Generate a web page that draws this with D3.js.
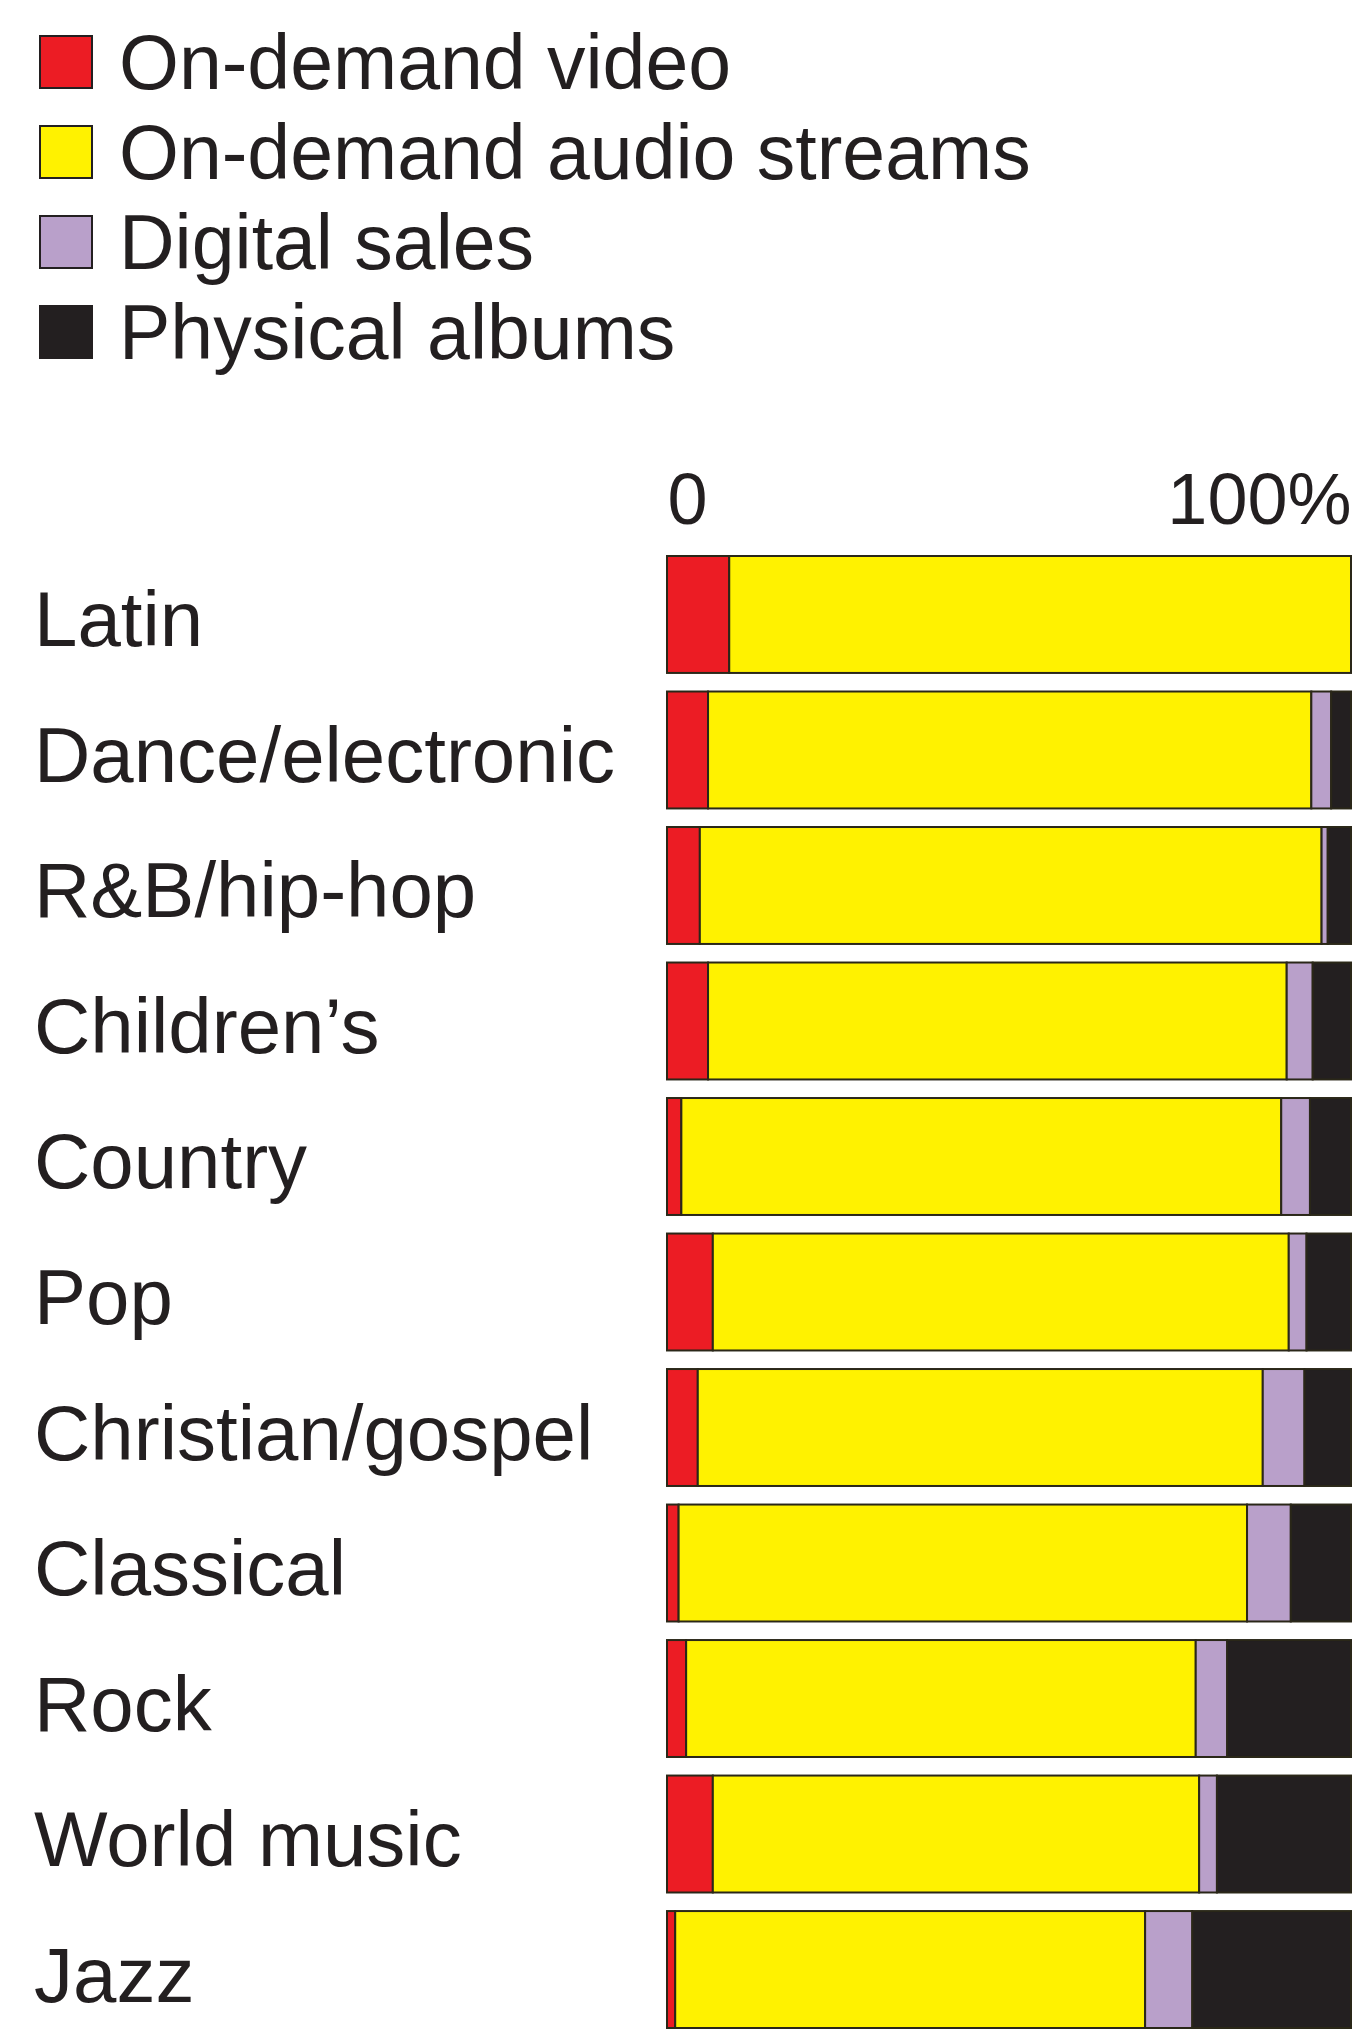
<!DOCTYPE html>
<html>
<head>
<meta charset="utf-8">
<title>Music consumption by genre</title>
<script src="https://cdn.jsdelivr.net/npm/d3@7"></script>
<style>
  body { margin: 0; background: #fff; }
  text { font-family: "Liberation Sans", Arial, Helvetica, sans-serif; fill: #231f20; }
</style>
</head>
<body>
<script>
// genres, top to bottom
var genres = ["Latin", "Dance/electronic", "R&B/hip-hop", "Children\u2019s", "Country", "Pop",
  "Christian/gospel", "Classical", "Rock", "World music", "Jazz"];

// share of consumption, percent
var video    = [9.1, 6.0, 4.8, 6.0, 2.1, 6.7, 4.5, 1.7, 2.8, 6.7, 1.2];
var audio    = [90.9, 88.2, 90.9, 84.6, 87.7, 84.2, 82.6, 83.1, 74.5, 71.1, 68.7];
var digital  = [0, 2.9, 0.9, 3.8, 4.2, 2.6, 6.1, 6.4, 4.6, 2.6, 6.9];
var physical = [0, 2.9, 3.4, 5.6, 6.0, 6.5, 6.8, 8.8, 18.1, 19.6, 23.2];

var seriesNames = ["On-demand video", "On-demand audio streams", "Digital sales", "Physical albums"];
var seriesColors = ["#ec1c24", "#fff200", "#b9a0ca", "#231f20"];
var tickLabels = ["0", "100%"];

var totalWidth = 1352;
var totalHeight = 2031;

var svg = d3.select("body").append("svg")
    .attr("width", totalWidth)
    .attr("height", totalHeight);

// build rows for the stack
var keys = ["video", "audio", "digital", "physical"];
var rows = genres.map(function(g, i) {
  return {genre: g, video: video[i], audio: audio[i], digital: digital[i], physical: physical[i]};
});
var stacked = d3.stack().keys(keys)(rows);

// scales
var x = d3.scaleLinear().domain([0, 100]).range([667, 1351]);
var y = d3.scaleBand().domain(genres).range([556, 2028]).paddingInner(0.137).paddingOuter(0);
var color = d3.scaleOrdinal().domain(keys).range(seriesColors);

// legend
var legend = svg.append("g").attr("class", "legend");
var item = legend.selectAll("g")
    .data(seriesNames)
    .enter()
    .append("g")
    .attr("transform", function(d, i) { return "translate(0," + (62 + i * 90) + ")"; });

item.append("rect")
    .attr("x", 40)
    .attr("y", -26)
    .attr("width", 52)
    .attr("height", 52)
    .attr("fill", function(d, i) { return seriesColors[i]; })
    .attr("stroke", "#231f20")
    .attr("stroke-width", 2);

item.append("text")
    .attr("x", 119)
    .attr("y", 27)
    .style("font-size", "77px")
    .text(function(d) { return d; });

// top axis with 0 and 100%
var axis = d3.axisTop(x)
    .tickValues([0, 100])
    .tickSize(0)
    .tickFormat(function(d, i) { return tickLabels[i]; });

var axisG = svg.append("g")
    .attr("transform", "translate(0,524)")
    .call(axis);
axisG.select(".domain").remove();
axisG.selectAll("text")
    .attr("y", 0)
    .attr("dy", 0)
    .style("font-size", "72px")
    .style("font-family", "Liberation Sans, Arial, sans-serif")
    .attr("fill", "#231f20")
    .attr("text-anchor", function(d) { return d === 0 ? "start" : "end"; });

// category labels
svg.append("g").selectAll("text")
    .data(genres)
    .enter()
    .append("text")
    .attr("x", 34)
    .attr("y", function(d) { return y(d) + y.bandwidth() / 2 + 32; })
    .style("font-size", "78px")
    .text(function(d) { return d; });

// stacked bars
svg.append("g").selectAll("g")
    .data(stacked)
    .enter()
    .append("g")
    .attr("fill", function(d) { return color(d.key); })
    .selectAll("rect")
    .data(function(d) { return d; })
    .enter()
    .append("rect")
    .attr("x", function(d) { return x(d[0]); })
    .attr("y", function(d) { return y(d.data.genre); })
    .attr("width", function(d) { return x(d[1]) - x(d[0]); })
    .attr("height", y.bandwidth())
    .attr("stroke", "#2a2718")
    .attr("stroke-width", 2);
</script>
</body>
</html>
